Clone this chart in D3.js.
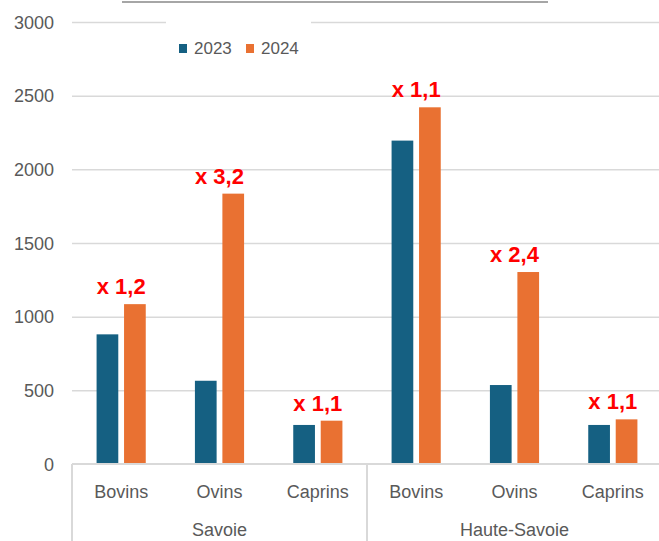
<!DOCTYPE html>
<html lang="fr">
<head>
<meta charset="UTF-8">
<title>Savoie / Haute-Savoie 2023-2024</title>
<script src="https://d3js.org/d3.v7.min.js"></script>
<style>
    body { margin: 0; background: #fff; }
    text { font-family: "Liberation Sans", Arial, sans-serif; }
</style>
</head>
<body>
<div id="chart"></div>
<script>
    // données
    let departements = ['Savoie', 'Haute-Savoie'],
        especes = ['Bovins', 'Ovins', 'Caprins'],
        annees = ['2023', '2024'],
        valeurs2023 = [880, 565, 265, 2195, 536, 265],
        valeurs2024 = [1085, 1835, 294, 2421, 1303, 303],
        rapports = ['x 1,2', 'x 3,2', 'x 1,1', 'x 1,1', 'x 2,4', 'x 1,1'],
        yTicks = [0, 500, 1000, 1500, 2000, 2500, 3000],
        couleurs = ['#156082', '#E97132'];

    let W = 659, H = 541,
        mLeft = 72, mRight = 662, mTop = 22, mBottom = 464;

    // une ligne par catégorie (département x espèce)
    let cats = [];
    departements.forEach((d, i) => {
        especes.forEach((e, j) => {
            let k = i * especes.length + j;
            cats.push({id: d + '-' + e, dep: d, esp: e, v: [valeurs2023[k], valeurs2024[k]], label: rapports[k]});
        });
    });

    let svg = d3.select('#chart').append('svg').attr('width', W).attr('height', H);

    let x0 = d3.scaleBand().domain(cats.map(c => c.id)).range([mLeft, mRight]).padding(0),
        step = x0.step(),
        x1 = d3.scaleBand().domain(annees).range([step * 0.25, step * 0.75]).paddingInner(0.21),
        y = d3.scaleLinear().domain([0, 3000]).range([mBottom, mTop]);

    // trait gris en haut (reste du titre)
    svg.append('line').attr('x1', 122).attr('x2', 548).attr('y1', 2).attr('y2', 2)
        .style('stroke', '#a6a6a6').style('stroke-width', 2);

    // grille
    let yAxis = d3.axisLeft(y).tickValues(yTicks).tickFormat(d3.format('d'))
        .tickSize(-(W - mLeft)).tickPadding(18);
    let gy = svg.append('g').attr('transform', 'translate(' + mLeft + ',0)').call(yAxis);
    gy.select('.domain').remove();
    gy.selectAll('.tick line').style('stroke', '#d9d9d9').style('stroke-width', 1.5)
        .style('display', d => d === 0 ? 'none' : null);
    gy.selectAll('.tick text').style('font-size', '18px').style('fill', '#595959')
        .style('font-family', '"Liberation Sans", Arial, sans-serif')
        .attr('dy', '0.35em');

    // fond blanc de la légende
    svg.append('rect').attr('x', 166).attr('y', 16).attr('width', 145).attr('height', 48).style('fill', '#fff');

    // barres
    let groupes = svg.selectAll('g.cat').data(cats).enter().append('g')
        .attr('class', 'cat')
        .attr('transform', d => 'translate(' + x0(d.id) + ',0)');
    groupes.selectAll('rect').data(d => d.v.map((v, i) => ({annee: annees[i], v: v, i: i})))
        .enter().append('rect')
        .attr('x', d => x1(d.annee))
        .attr('width', x1.bandwidth())
        .attr('y', d => y(d.v))
        .attr('height', d => y(0) - y(d.v))
        .style('fill', d => couleurs[d.i]);

    // rapports 2024 / 2023
    groupes.append('text')
        .attr('x', step / 2)
        .attr('y', d => y(d.v[1]) - 10)
        .attr('text-anchor', 'middle')
        .style('font-size', '22px').style('font-weight', 'bold').style('fill', '#ff0000')
        .text(d => d.label);

    // axe des catégories
    svg.append('line').attr('x1', mLeft).attr('x2', W).attr('y1', mBottom).attr('y2', mBottom)
        .style('stroke', '#d9d9d9').style('stroke-width', 2);
    departements.forEach((d, i) => {
        let xs = x0(d + '-' + especes[0]);
        svg.append('line').attr('x1', xs).attr('x2', xs).attr('y1', mBottom).attr('y2', H)
            .style('stroke', '#d9d9d9').style('stroke-width', 2);
        svg.append('text')
            .attr('x', xs + step * especes.length / 2).attr('y', 536)
            .attr('text-anchor', 'middle')
            .style('font-size', '18px').style('fill', '#595959')
            .text(d);
    });
    svg.selectAll('text.esp').data(cats).enter().append('text')
        .attr('class', 'esp')
        .attr('x', d => x0(d.id) + step / 2).attr('y', 498)
        .attr('text-anchor', 'middle')
        .style('font-size', '18px').style('fill', '#595959')
        .text(d => d.esp);

    // légende
    let leg = svg.selectAll('g.leg').data(annees).enter().append('g')
        .attr('class', 'leg')
        .attr('transform', (d, i) => 'translate(' + (179 + i * 67) + ',44)');
    leg.append('rect').attr('width', 8).attr('height', 9).style('fill', (d, i) => couleurs[i]);
    leg.append('text').attr('x', 15).attr('y', 10)
        .style('font-size', '17px').style('fill', '#595959')
        .text(d => d);
</script>
</body>
</html>
